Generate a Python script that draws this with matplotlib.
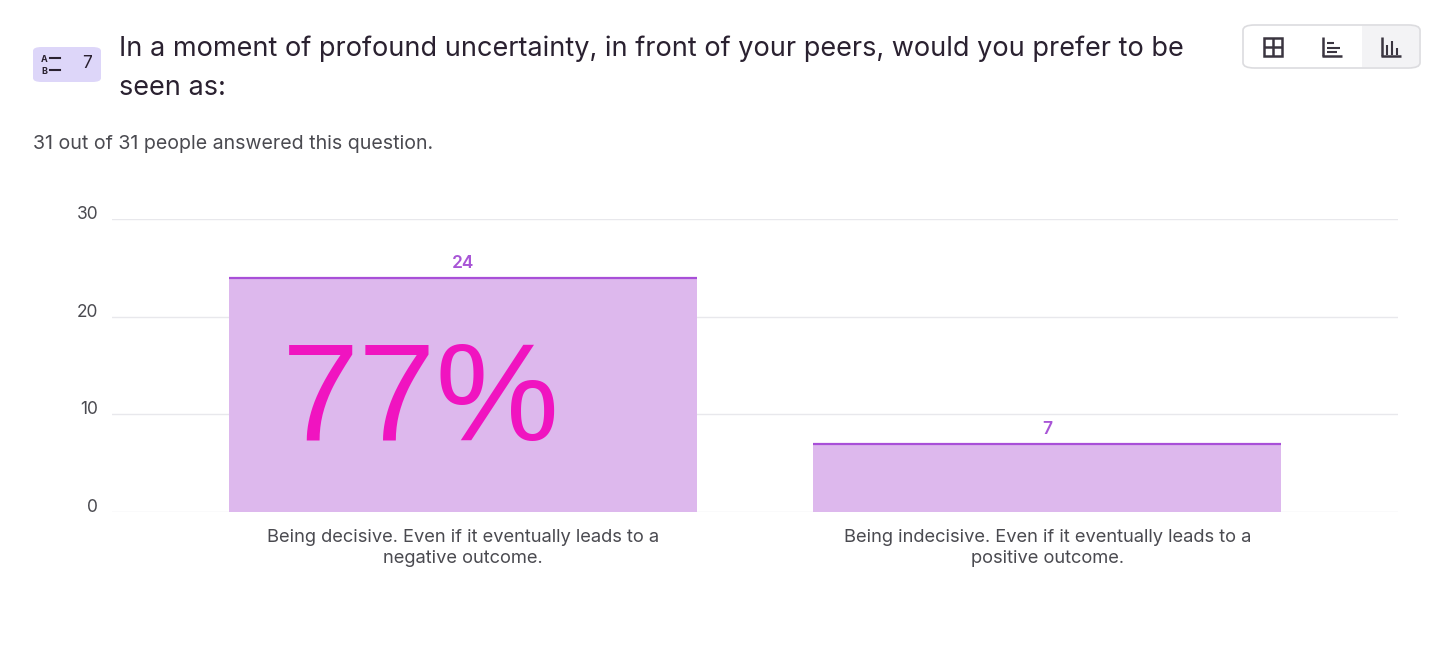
import matplotlib.pyplot as plt
from matplotlib.patches import FancyBboxPatch, Rectangle
from matplotlib.lines import Line2D

categories = ['Being decisive. Even if it eventually leads to a\nnegative outcome.',
              'Being indecisive. Even if it eventually leads to a\npositive outcome.']
counts = [24, 7]
y_ticks = [0, 10, 20, 30]
big_label = '77%'
title = 'In a moment of profound uncertainty, in front of your peers, would you prefer to be\nseen as:'
subtitle = '31 out of 31 people answered this question.'
question_no = '7'

plt.rcParams['font.family'] = ['Inter', 'DejaVu Sans']

fig = plt.figure(figsize=(14.56, 6.53), dpi=100)
W, H = 1456, 653

def fx(px):
    return px / W

def fy(py):
    return 1 - py / H

ax = fig.add_axes([fx(112), fy(512), fx(1398) - fx(112), fy(219) - fy(512)])

x = list(range(len(categories)))
bars = ax.bar(x, counts, width=0.8, color='#ddb8ed', zorder=2)
for b in bars:
    ax.plot([b.get_x(), b.get_x() + b.get_width()], [b.get_height()] * 2,
            color='#a84fd8', lw=1.6, zorder=3, solid_capstyle='butt')
    ax.text(b.get_x() + b.get_width() / 2, b.get_height() + 0.6, str(int(b.get_height())),
            ha='center', va='bottom', color='#a855d6', fontsize=12.5, fontweight='semibold')

ax.text(-0.31, 7.4, big_label, ha='left', va='baseline', color='#f014c0',
        fontsize=100, family='Liberation Sans', zorder=4)

ax.set_xlim(-0.6, 1.6)
ax.set_ylim(0, 30)
ax.set_yticks(y_ticks)
ax.set_xticks(x)
ax.set_xticklabels(categories, fontsize=13.2, color='#4a4a50', linespacing=1.35)
ax.tick_params(axis='y', labelsize=12.5, labelcolor='#4a4a50', length=0, pad=10)
ax.tick_params(axis='x', length=0, pad=12)
for lab in ax.get_yticklabels():
    lab.set_verticalalignment('baseline')
ax.grid(axis='y', color='#e8e8ec', lw=1, zorder=0)
for s in ax.spines.values():
    s.set_visible(False)

# header
fig.text(fx(119), fy(95), title, fontsize=19.5, color='#2a2130', va='baseline',
         linespacing=1.65)
fig.text(fx(33), fy(149), subtitle, fontsize=14.1, color='#4a4a50', va='baseline')

# question badge
fig.patches.append(FancyBboxPatch((fx(33), fy(82)), fx(68), fy(47) - fy(82),
                                  boxstyle='round,pad=0,rounding_size=0.006',
                                  transform=fig.transFigure, fc='#ddd6f9', ec='none'))
fig.text(fx(44), fy(59), 'A', fontsize=6.5, fontweight='bold', color='#2a2130', va='center', ha='center')
fig.text(fx(44), fy(71), 'B', fontsize=6.5, fontweight='bold', color='#2a2130', va='center', ha='center')
for yy in (58, 70):
    fig.lines.append(Line2D([fx(50), fx(60)], [fy(yy), fy(yy)], transform=fig.transFigure,
                            color='#2a2130', lw=1.5))
fig.text(fx(87), fy(64), question_no, fontsize=12.5, color='#2a2130', va='center', ha='center')

# view toolbar
fig.patches.append(Rectangle((fx(1362), fy(67)), fx(57), fy(26) - fy(67),
                             transform=fig.transFigure, fc='#f3f3f5', ec='none'))
fig.patches.append(FancyBboxPatch((fx(1243), fy(68)), fx(177), fy(25) - fy(68),
                                  boxstyle='round,pad=0,rounding_size=0.008',
                                  transform=fig.transFigure, fc='none', ec='#dcdcdf', lw=1.2))
ic = '#3a3540'
def seg(x0, y0, x1, y1, lw=1.8):
    fig.lines.append(Line2D([fx(x0), fx(x1)], [fy(y0), fy(y1)], transform=fig.transFigure,
                            color=ic, lw=lw, solid_capstyle='butt'))
# grid icon
fig.patches.append(Rectangle((fx(1264), fy(56)), fx(18), fy(38) - fy(56),
                             transform=fig.transFigure, fc='none', ec=ic, lw=1.8))
seg(1273, 38, 1273, 56)
seg(1264, 47, 1282, 47)
# horizontal bars icon
seg(1323, 37, 1323, 56)
seg(1322, 56, 1342, 56)
seg(1327, 43, 1334, 43, 1.5)
seg(1327, 48, 1340, 48, 1.5)
seg(1327, 52, 1337, 52, 1.5)
# vertical bars icon
seg(1382, 37, 1382, 56)
seg(1381, 56, 1401, 56)
seg(1387, 55, 1387, 45, 1.5)
seg(1392, 55, 1392, 41, 1.5)
seg(1397, 55, 1397, 48, 1.5)

fig.savefig('out.png', dpi=100, facecolor='white')
